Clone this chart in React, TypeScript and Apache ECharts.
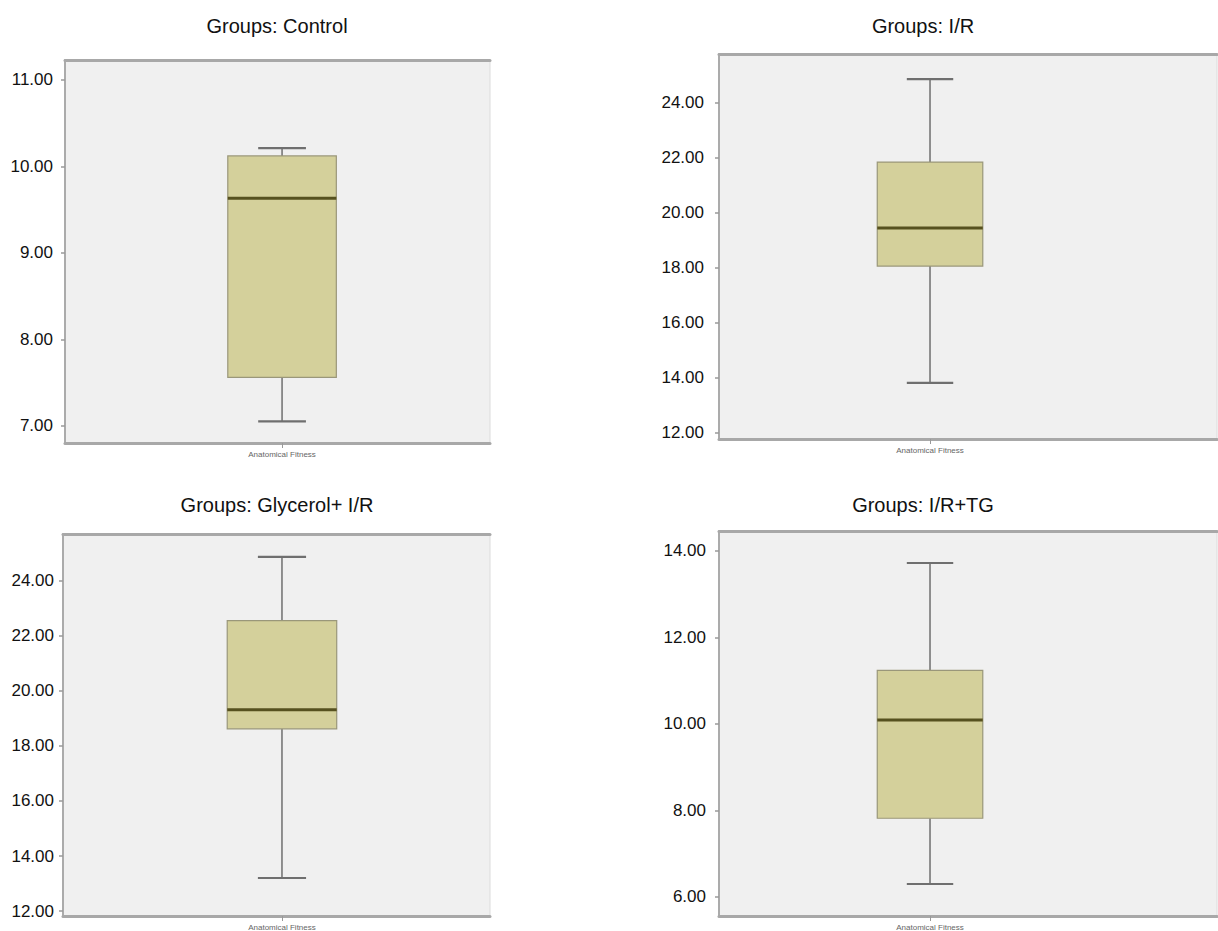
import React, { useEffect, useRef } from "react";
import * as echarts from "echarts";

// ---------- data ----------
const groupTitles = ["Groups: Control", "Groups: I/R", "Groups: Glycerol+ I/R", "Groups: I/R+TG"];
const variableName = "Anatomical Fitness";

// five-number summaries: [min, Q1, median, Q3, max]
const controlStats = [7.05, 7.56, 9.63, 10.12, 10.21];
const irStats = [13.82, 18.07, 19.45, 21.85, 24.87];
const glycerolIrStats = [13.2, 18.62, 19.31, 22.55, 24.87];
const irTgStats = [6.3, 7.82, 10.09, 11.24, 13.72];

// y-axis tick values
const controlTicks = [7, 8, 9, 10, 11];
const irTicks = [12, 14, 16, 18, 20, 22, 24];
const glycerolIrTicks = [12, 14, 16, 18, 20, 22, 24];
const irTgTicks = [6, 8, 10, 12, 14];

// y-axis visible ranges
const controlRange = [6.8, 11.23];
const irRange = [11.78, 25.78];
const glycerolIrRange = [11.82, 25.7];
const irTgRange = [5.56, 14.46];

const allStats = [controlStats, irStats, glycerolIrStats, irTgStats];
const allTicks = [controlTicks, irTicks, glycerolIrTicks, irTgTicks];
const allRanges = [controlRange, irRange, glycerolIrRange, irTgRange];

// ---------- layout (pixels) ----------
const panels = [
  { left: 65, top: 60, width: 425, height: 383, xMax: 0.958, labelMargin: 12, titleX: 277, titleY: 26 },
  { left: 719, top: 54, width: 498, height: 385, xMax: 1.36, labelMargin: 15, titleX: 923, titleY: 26 },
  { left: 63, top: 534, width: 427, height: 383, xMax: 0.95, labelMargin: 9, titleX: 277, titleY: 505 },
  { left: 719, top: 531, width: 498, height: 385, xMax: 1.36, labelMargin: 13, titleX: 923, titleY: 505 },
];

const BOX_FILL = "#d4d09b";
const BOX_BORDER = "#9a977a";
const MEDIAN = "#56511f";
const WHISKER = "#6f6f6f";

function renderBox(params: any, api: any) {
  const x = api.value(0);
  const lo = api.coord([x, api.value(1)]);
  const q1 = api.coord([x, api.value(2)]);
  const md = api.coord([x, api.value(3)]);
  const q3 = api.coord([x, api.value(4)]);
  const hi = api.coord([x, api.value(5)]);
  const boxW = api.size([0.5, 0])[0];
  const capW = api.size([0.22, 0])[0];
  const cx = lo[0];
  return {
    type: "group",
    children: [
      { type: "line", shape: { x1: cx, y1: hi[1], x2: cx, y2: q3[1] }, style: { stroke: WHISKER, lineWidth: 1.5 } },
      { type: "line", shape: { x1: cx, y1: q1[1], x2: cx, y2: lo[1] }, style: { stroke: WHISKER, lineWidth: 1.5 } },
      { type: "line", shape: { x1: cx - capW / 2, y1: hi[1], x2: cx + capW / 2, y2: hi[1] }, style: { stroke: WHISKER, lineWidth: 2.2 } },
      { type: "line", shape: { x1: cx - capW / 2, y1: lo[1], x2: cx + capW / 2, y2: lo[1] }, style: { stroke: WHISKER, lineWidth: 2.2 } },
      {
        type: "rect",
        shape: { x: cx - boxW / 2, y: q3[1], width: boxW, height: q1[1] - q3[1] },
        style: { fill: BOX_FILL, stroke: BOX_BORDER, lineWidth: 1.2 },
      },
      { type: "line", shape: { x1: cx - boxW / 2, y1: md[1], x2: cx + boxW / 2, y2: md[1] }, style: { stroke: MEDIAN, lineWidth: 3 } },
    ],
  };
}

export default function App() {
  const ref = useRef<HTMLDivElement>(null);

  useEffect(() => {
    if (!ref.current) return;
    const chart = echarts.init(ref.current, null, { renderer: "svg" });

    const grids: any[] = [];
    const xAxes: any[] = [];
    const yAxes: any[] = [];
    const series: any[] = [];
    const graphics: any[] = [];

    panels.forEach((p, i) => {
      grids.push({
        left: p.left,
        top: p.top,
        width: p.width,
        height: p.height,
        show: true,
        backgroundColor: "#f0f0f0",
        borderColor: "#dcdcdc",
        borderWidth: 1,
      });
      // bottom x axis (variable label)
      xAxes.push({
        type: "value",
        gridIndex: i,
        min: -1,
        max: p.xMax,
        position: "bottom",
        axisLine: { show: true, onZero: false, lineStyle: { color: "#a8a8a8", width: 3 } },
        axisTick: { show: true, customValues: [0], length: 5, lineStyle: { color: "#999", width: 1 } },
        axisLabel: {
          show: true,
          customValues: [0],
          formatter: () => variableName,
          fontSize: 8,
          color: "#666",
          margin: 7,
          fontFamily: "Liberation Sans, sans-serif",
        },
        splitLine: { show: false },
      });
      // top x axis (frame)
      xAxes.push({
        type: "value",
        gridIndex: i,
        min: -1,
        max: p.xMax,
        position: "top",
        axisLine: { show: true, onZero: false, lineStyle: { color: "#a8a8a8", width: 3 } },
        axisTick: { show: false },
        axisLabel: { show: false },
        splitLine: { show: false },
      });
      yAxes.push({
        type: "value",
        gridIndex: i,
        min: allRanges[i][0],
        max: allRanges[i][1],
        axisLine: { show: true, onZero: false, lineStyle: { color: "#ababab", width: 2 } },
        axisTick: { show: true, customValues: allTicks[i], length: 4, lineStyle: { color: "#9a9a9a", width: 1.5 } },
        axisLabel: {
          show: true,
          customValues: allTicks[i],
          formatter: (v: number) => v.toFixed(2),
          fontSize: 17,
          color: "#111",
          margin: p.labelMargin,
          fontFamily: "Liberation Sans Narrow, Liberation Sans, sans-serif",
        },
        splitLine: { show: false },
      });
      series.push({
        type: "custom",
        name: groupTitles[i],
        xAxisIndex: i * 2,
        yAxisIndex: i,
        renderItem: renderBox,
        encode: { x: 0, y: [1, 2, 3, 4, 5] },
        data: [[0, ...allStats[i]]],
        clip: false,
      });
      graphics.push({
        type: "text",
        x: p.titleX,
        y: p.titleY,
        style: {
          text: groupTitles[i],
          font: "20px 'Liberation Sans', Arial, sans-serif",
          fill: "#111",
          textAlign: "center",
          textVerticalAlign: "middle",
        },
      });
    });

    chart.setOption({
      animation: false,
      backgroundColor: "#ffffff",
      grid: grids,
      xAxis: xAxes,
      yAxis: yAxes,
      series,
      graphic: graphics,
    });

    return () => chart.dispose();
  }, []);

  return (
    <div
      ref={ref}
      style={{ position: "absolute", left: 0, top: 0, width: 1218, height: 931, background: "#fff" }}
    />
  );
}
